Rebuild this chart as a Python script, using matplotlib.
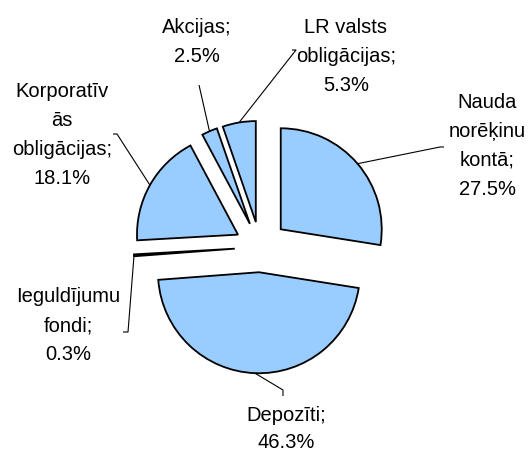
import matplotlib
matplotlib.use("Agg")
import matplotlib.pyplot as plt
import numpy as np

# ---- data ----
categories = ["Nauda norēķinu kontā", "Depozīti", "Ieguldījumu fondi",
              "Korporatīvās obligācijas", "Akcijas", "LR valsts obligācijas"]
shares = [27.5, 46.3, 0.3, 18.1, 2.5, 5.3]
label_lines = [
    ["Nauda", "norēķinu", "kontā;", "27.5%"],
    ["Depozīti;", "46.3%"],
    ["Ieguldījumu", "fondi;", "0.3%"],
    ["Korporatīv", "ās", "obligācijas;", "18.1%"],
    ["Akcijas;", "2.5%"],
    ["LR valsts", "obligācijas;", "5.3%"],
]

# ---- layout (pixels) ----
W, H = 529, 453
CX, CY, R = 260, 247, 101          # pie centre and radius in pixels
explode = [0.27, 0.25, 0.25, 0.25, 0.25, 0.25]
# label anchor: centre x, first baseline y
label_pos = [(487, 108), (286, 421), (68, 302), (62, 97), (197, 33), (346, 33)]
# leader end points (pixel coords), after leaving the wedge
leader_pts = [
    [(440, 147), (444, 147)],
    [(283, 390), (283, 396)],
    [(128, 332), (123, 332)],
    [(117, 134), (113, 134)],
    [(199, 85)],
    [(296, 50), (292, 50)],
]
LINE_SP = 29

plt.rcParams['font.family'] = ['Liberation Sans', 'DejaVu Sans']

fig = plt.figure(figsize=(W / 100, H / 100), dpi=100)
ax = fig.add_axes([0, 0, 1, 1])

wedges, _ = ax.pie(shares, startangle=90, counterclock=False, explode=explode,
                   colors=["#99CCFF"] * len(shares),
                   wedgeprops=dict(edgecolor="black", linewidth=1.3),
                   radius=1.0)

ax.set_xlim(-CX / R, (W - CX) / R)
ax.set_ylim((CY - H) / R, CY / R)
ax.set_aspect('auto')
ax.axis('off')


def px2data(x, y):
    return (x - CX) / R, (CY - y) / R


for w, lines, (lx, ly), pts in zip(wedges, label_lines, label_pos, leader_pts):
    mid = np.deg2rad((w.theta1 + w.theta2) / 2)
    cx, cy = w.center
    sx, sy = cx + w.r * np.cos(mid), cy + w.r * np.sin(mid)
    xs = [sx] + [px2data(*p)[0] for p in pts]
    ys = [sy] + [px2data(*p)[1] for p in pts]
    ax.plot(xs, ys, color="black", lw=0.8, solid_capstyle='butt')
    sp = LINE_SP if len(lines) > 2 or ly > 400 is False else LINE_SP
    for i, t in enumerate(lines):
        tx, ty = px2data(lx, ly + i * (LINE_SP if ly < 400 else 27))
        ax.text(tx, ty, t, ha='center', va='baseline', fontsize=14.5,
                color='black')

fig.savefig("out.png", dpi=100)
